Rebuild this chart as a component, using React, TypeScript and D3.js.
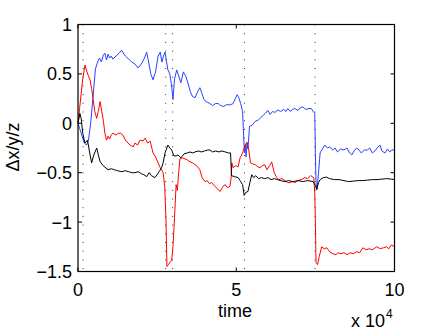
import React, { useRef, useEffect } from 'react';
import * as d3 from 'd3';

// time in units of 1e4
const blueX = [0, 0.05, 0.12, 0.2, 0.27, 0.33, 0.4, 0.47, 0.55, 0.62, 0.68, 0.74, 0.8, 0.85, 0.9, 0.95, 1.0, 1.05, 1.1, 1.2, 1.3, 1.38, 1.45, 1.5, 1.6, 1.7, 1.8, 1.9, 2.0, 2.1, 2.17, 2.22, 2.3, 2.37, 2.45, 2.53, 2.6, 2.65, 2.7, 2.75, 2.8, 2.84, 2.9, 2.95, 3.0, 3.05, 3.12, 3.18, 3.25, 3.33, 3.4, 3.48, 3.55, 3.62, 3.7, 3.78, 3.85, 3.92, 3.98, 4.05, 4.17, 4.25, 4.35, 4.43, 4.5, 4.6, 4.7, 4.8, 4.9, 4.97, 5.03, 5.08, 5.14, 5.2, 5.23, 5.26, 5.29, 5.31, 5.34, 5.37, 5.42, 5.5, 5.6, 5.69, 5.78, 5.85, 5.92, 6.0, 6.07, 6.15, 6.22, 6.32, 6.4, 6.5, 6.57, 6.63, 6.7, 6.78, 6.85, 6.95, 7.03, 7.1, 7.2, 7.3, 7.37, 7.43, 7.48, 7.5, 7.52, 7.55, 7.6, 7.65, 7.7, 7.8, 7.88, 7.95, 8.05, 8.12, 8.2, 8.3, 8.4, 8.5, 8.58, 8.65, 8.72, 8.8, 8.88, 8.95, 9.05, 9.15, 9.22, 9.3, 9.38, 9.45, 9.54, 9.6, 9.7, 9.78, 9.85, 9.92, 10.0];
const blueY = [0, -0.05, -0.12, -0.2, -0.22, -0.17, 0.0, 0.25, 0.55, 0.62, 0.66, 0.62, 0.69, 0.71, 0.64, 0.7, 0.66, 0.68, 0.65, 0.68, 0.71, 0.74, 0.7, 0.68, 0.65, 0.62, 0.6, 0.56, 0.6, 0.66, 0.72, 0.64, 0.5, 0.44, 0.52, 0.68, 0.72, 0.62, 0.68, 0.72, 0.62, 0.54, 0.5, 0.4, 0.24, 0.45, 0.54, 0.48, 0.41, 0.52, 0.48, 0.4, 0.32, 0.27, 0.26, 0.32, 0.36, 0.3, 0.24, 0.22, 0.2, 0.18, 0.2, 0.2, 0.18, 0.17, 0.19, 0.185, 0.2, 0.25, 0.29, 0.26, 0.2, 0.12, -0.1, -0.3, -0.22, -0.34, -0.2, -0.26, -0.03, -0.02, 0.02, 0.03, 0.06, 0.08, 0.1, 0.13, 0.09, 0.12, 0.11, 0.135, 0.12, 0.14, 0.12, 0.15, 0.12, 0.14, 0.15, 0.13, 0.16, 0.165, 0.14, 0.15, 0.15, 0.12, 0.1, -0.3, -0.6, -0.67, -0.5, -0.3, -0.27, -0.22, -0.25, -0.24, -0.27, -0.25, -0.29, -0.26, -0.27, -0.25, -0.3, -0.32, -0.28, -0.25, -0.27, -0.3, -0.27, -0.27, -0.25, -0.3, -0.28, -0.25, -0.22, -0.28, -0.3, -0.26, -0.29, -0.27, -0.27];

const redX = [0, 0.05, 0.1, 0.15, 0.22, 0.28, 0.33, 0.38, 0.43, 0.48, 0.53, 0.59, 0.64, 0.7, 0.75, 0.8, 0.85, 0.9, 0.95, 1.0, 1.05, 1.1, 1.2, 1.27, 1.35, 1.42, 1.5, 1.58, 1.65, 1.74, 1.8, 1.88, 1.96, 2.05, 2.12, 2.2, 2.28, 2.37, 2.45, 2.53, 2.6, 2.69, 2.74, 2.78, 2.81, 2.86, 2.92, 2.96, 3.0, 3.05, 3.1, 3.14, 3.18, 3.22, 3.3, 3.38, 3.45, 3.54, 3.62, 3.7, 3.78, 3.85, 3.92, 4.01, 4.08, 4.15, 4.22, 4.33, 4.4, 4.49, 4.56, 4.64, 4.72, 4.8, 4.84, 4.86, 4.9, 4.97, 5.06, 5.12, 5.2, 5.28, 5.34, 5.4, 5.45, 5.52, 5.6, 5.68, 5.75, 5.82, 5.9, 5.97, 6.05, 6.12, 6.2, 6.28, 6.35, 6.45, 6.54, 6.62, 6.7, 6.78, 6.86, 6.95, 7.05, 7.17, 7.25, 7.35, 7.45, 7.48, 7.5, 7.52, 7.57, 7.62, 7.7, 7.78, 7.86, 7.95, 8.05, 8.15, 8.22, 8.3, 8.4, 8.5, 8.6, 8.7, 8.8, 8.9, 9.0, 9.1, 9.2, 9.3, 9.44, 9.55, 9.65, 9.75, 9.82, 9.9, 10.0];
const redY = [0, 0.15, 0.3, 0.45, 0.59, 0.52, 0.48, 0.44, 0.35, 0.24, 0.12, 0.05, 0.12, 0.22, 0.12, 0.03, -0.1, -0.17, -0.13, -0.16, -0.12, -0.1, -0.12, -0.1, -0.1, -0.12, -0.17, -0.2, -0.22, -0.24, -0.2, -0.22, -0.17, -0.18, -0.15, -0.2, -0.18, -0.3, -0.34, -0.4, -0.45, -0.5, -0.64, -0.98, -1.45, -1.43, -1.4, -1.39, -1.25, -0.95, -0.62, -0.68, -0.5, -0.36, -0.35, -0.36, -0.37, -0.39, -0.4, -0.42, -0.44, -0.47, -0.55, -0.59, -0.58, -0.61, -0.6, -0.64, -0.66, -0.69, -0.65, -0.62, -0.65, -0.64, -0.55, -0.4, -0.45, -0.43, -0.44, -0.35, -0.3, -0.22, -0.19, -0.28, -0.4, -0.41, -0.42, -0.44, -0.45, -0.43, -0.42, -0.47, -0.43, -0.39, -0.5, -0.55, -0.57, -0.56, -0.58, -0.6, -0.6, -0.59, -0.6, -0.58, -0.57, -0.55, -0.56, -0.53, -0.55, -0.7, -1.0, -1.41, -1.43, -1.35, -1.25, -1.27, -1.26, -1.3, -1.32, -1.33, -1.31, -1.32, -1.31, -1.33, -1.31, -1.32, -1.3, -1.31, -1.26, -1.28, -1.27, -1.28, -1.25, -1.27, -1.26, -1.25, -1.27, -1.23, -1.25];

const blackX = [0, 0.06, 0.1, 0.15, 0.22, 0.3, 0.37, 0.43, 0.5, 0.59, 0.65, 0.7, 0.8, 0.95, 1.05, 1.15, 1.25, 1.38, 1.5, 1.6, 1.7, 1.8, 1.9, 2.0, 2.08, 2.17, 2.25, 2.32, 2.43, 2.5, 2.58, 2.64, 2.69, 2.75, 2.84, 2.9, 2.96, 3.03, 3.1, 3.16, 3.25, 3.35, 3.45, 3.54, 3.62, 3.7, 3.8, 3.9, 4.0, 4.1, 4.17, 4.25, 4.35, 4.45, 4.55, 4.65, 4.75, 4.82, 4.85, 4.95, 5.06, 5.14, 5.2, 5.25, 5.3, 5.37, 5.43, 5.49, 5.55, 5.62, 5.7, 5.8, 5.9, 6.0, 6.1, 6.2, 6.3, 6.4, 6.54, 6.65, 6.8, 6.95, 7.1, 7.25, 7.43, 7.5, 7.54, 7.6, 7.65, 7.75, 7.85, 7.95, 8.1, 8.25, 8.4, 8.55, 8.7, 8.85, 9.0, 9.15, 9.3, 9.45, 9.6, 9.75, 9.9, 10.0];
const blackY = [0, 0.1, 0.05, -0.1, -0.2, -0.17, -0.3, -0.4, -0.32, -0.25, -0.33, -0.39, -0.43, -0.47, -0.46, -0.47, -0.48, -0.49, -0.48, -0.49, -0.5, -0.5, -0.49, -0.51, -0.52, -0.54, -0.5, -0.53, -0.55, -0.52, -0.48, -0.45, -0.4, -0.3, -0.22, -0.25, -0.27, -0.33, -0.33, -0.32, -0.35, -0.31, -0.3, -0.29, -0.3, -0.29, -0.28, -0.29, -0.28, -0.27, -0.27, -0.29, -0.28, -0.29, -0.28, -0.29, -0.3, -0.3, -0.53, -0.54, -0.55, -0.59, -0.62, -0.73, -0.7, -0.69, -0.6, -0.52, -0.55, -0.53, -0.56, -0.55, -0.56, -0.55, -0.57, -0.56, -0.57, -0.58, -0.59, -0.58, -0.59, -0.58, -0.59, -0.58, -0.59, -0.63, -0.67, -0.6, -0.57, -0.55, -0.545, -0.56, -0.57, -0.57, -0.58, -0.59, -0.585, -0.58, -0.58, -0.575, -0.57, -0.57, -0.565, -0.56, -0.565, -0.57];

const eventTimes = [0.16, 2.77, 2.99, 5.26, 7.49];
const xTicks = [0, 5, 10];
const yTicks = [1, 0.5, 0, -0.5, -1, -1.5];

const font = '"Liberation Sans", Arial, sans-serif';

const App = () => {
    const ref = useRef<SVGSVGElement>(null);

    useEffect(() => {
        const svg = d3.select(ref.current);
        svg.selectAll("*").remove();

        const left = 78, right = 394.5, top = 24.5, bottom = 271.5;

        const x = d3.scaleLinear().domain([0, 10]).range([left, right]);
        const y = d3.scaleLinear().domain([-1.5, 1]).range([bottom, top]);

        // dotted event markers
        svg.selectAll("line.event")
            .data(eventTimes)
            .enter().append("line")
            .attr("x1", d => x(d)).attr("x2", d => x(d))
            .attr("y1", top).attr("y2", bottom)
            .attr("stroke", "#333")
            .attr("stroke-width", 1)
            .attr("stroke-dasharray", "1,7.7");

        const line = d3.line<[number, number]>()
            .x(d => x(d[0]))
            .y(d => y(d[1]));

        const series = [
            { xs: blueX, ys: blueY, color: "#2a40ff" },
            { xs: redX, ys: redY, color: "#ff0000" },
            { xs: blackX, ys: blackY, color: "#000000" },
        ];
        series.forEach(s => {
            svg.append("path")
                .datum(s.xs.map((v, i) => [v, s.ys[i]] as [number, number]))
                .attr("d", line)
                .attr("fill", "none")
                .attr("stroke", s.color)
                .attr("stroke-width", 1)
                .attr("stroke-linejoin", "round");
        });

        // box
        svg.append("rect")
            .attr("x", left).attr("y", top)
            .attr("width", right - left).attr("height", bottom - top)
            .attr("fill", "none").attr("stroke", "#000").attr("stroke-width", 1.2);

        // ticks inside, all four sides
        const tk = 4;
        yTicks.forEach(t => {
            svg.append("line").attr("x1", left).attr("x2", left + tk)
                .attr("y1", y(t)).attr("y2", y(t)).attr("stroke", "#000");
            svg.append("line").attr("x1", right).attr("x2", right - tk)
                .attr("y1", y(t)).attr("y2", y(t)).attr("stroke", "#000");
        });
        xTicks.forEach(t => {
            svg.append("line").attr("x1", x(t)).attr("x2", x(t))
                .attr("y1", bottom).attr("y2", bottom - tk).attr("stroke", "#000");
            svg.append("line").attr("x1", x(t)).attr("x2", x(t))
                .attr("y1", top).attr("y2", top + tk).attr("stroke", "#000");
        });

        svg.selectAll("text.ylab")
            .data(yTicks)
            .enter().append("text")
            .attr("x", left - 6)
            .attr("y", d => y(d))
            .attr("dy", "0.36em")
            .attr("text-anchor", "end")
            .attr("font-family", font)
            .attr("font-size", 18)
            .text(d => d3.format("")(d).replace("-", "\u2212"));

        svg.selectAll("text.xlab")
            .data(xTicks)
            .enter().append("text")
            .attr("x", d => x(d))
            .attr("y", bottom + 24)
            .attr("text-anchor", "middle")
            .attr("font-family", font)
            .attr("font-size", 18)
            .text(d => String(d));

        svg.append("text")
            .attr("x", 235)
            .attr("y", 317)
            .attr("text-anchor", "middle")
            .attr("font-family", font)
            .attr("font-size", 18)
            .text("time");

        const exp = svg.append("text")
            .attr("x", 351)
            .attr("y", 326.5)
            .attr("font-family", font)
            .attr("font-size", 18);
        exp.append("tspan").text("x 10");
        exp.append("tspan").attr("dx", 1).attr("dy", -8.5).attr("font-size", 12).text("4");

        svg.append("text")
            .attr("transform", `translate(18.5,147) rotate(-90)`)
            .attr("text-anchor", "middle")
            .attr("font-family", font)
            .attr("font-size", 18)
            .text("\u0394x/y/z");
    }, []);

    return (
        <svg ref={ref} width={436} height={329}
            style={{ position: "absolute", left: 0, top: 0, background: "#fff" }}></svg>
    );
};

export default App;
